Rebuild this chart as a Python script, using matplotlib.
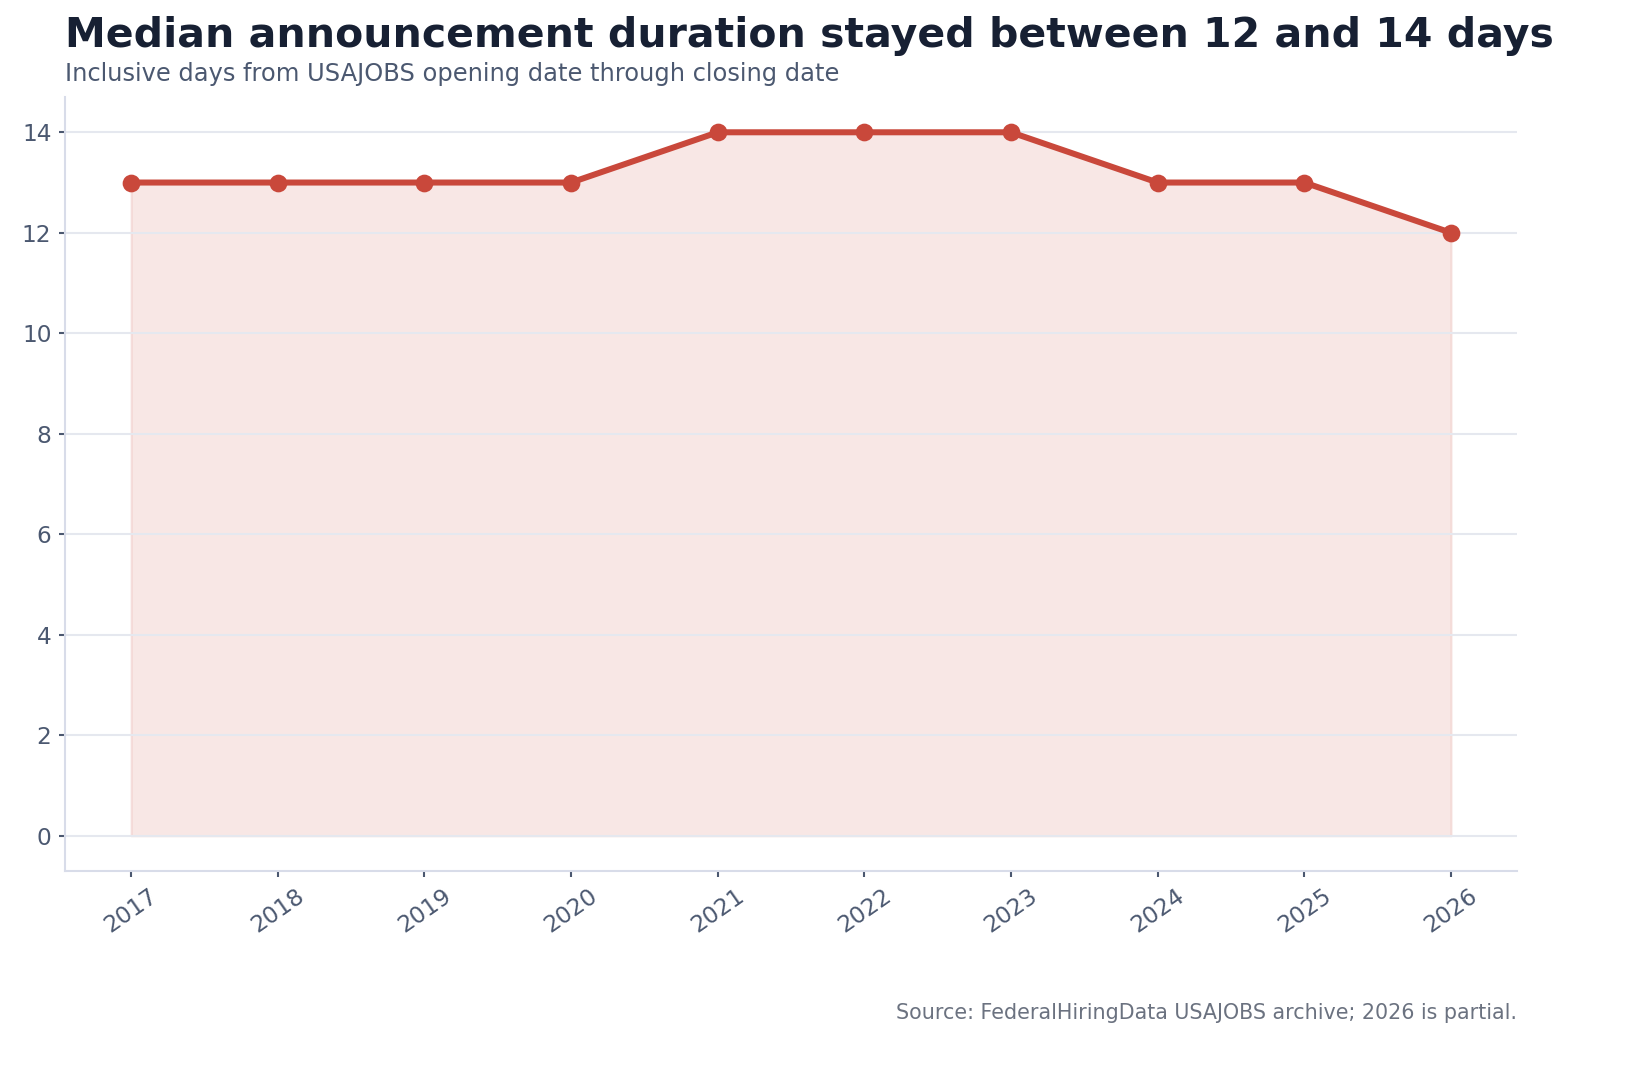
import matplotlib
matplotlib.use("Agg")
import matplotlib.pyplot as plt

years = [2017, 2018, 2019, 2020, 2021, 2022, 2023, 2024, 2025, 2026]
median_days = [13, 13, 13, 13, 14, 14, 14, 13, 13, 12]

line_color = "#c9483b"
title_color = "#172033"
muted = "#4b5870"

fig = plt.figure(figsize=(1627 / 150, 1079 / 150), dpi=150)
ax = fig.add_axes([0.04, 0.1928, 0.8924, 0.7172])

# grid sits above the shaded area, line on top of both
ax.fill_between(years, median_days, 0, color=line_color, alpha=0.13, zorder=0.2)
ax.plot(years, median_days, color=line_color, linewidth=2.9, marker="o",
        markersize=7.5, zorder=3)

ax.set_xticks(years)
ax.set_xticklabels([str(y) for y in years], rotation=35)
ax.set_yticks(range(0, 15, 2))
ax.set_axisbelow(True)
ax.grid(axis="y", color="#e5e8ef", linewidth=1.0)

for side in ["top", "right"]:
    ax.spines[side].set_visible(False)
for side in ["left", "bottom"]:
    ax.spines[side].set_color("#d8dce9")
    ax.spines[side].set_linewidth(1.0)

ax.tick_params(axis="both", colors=muted, labelsize=11.2, length=3, width=1.0)

fig.text(0.04, 0.967, "Median announcement duration stayed between 12 and 14 days",
         fontsize=19.7, fontweight="bold", color=title_color, va="center", ha="left")
fig.text(0.04, 0.931, "Inclusive days from USAJOBS opening date through closing date",
         fontsize=11.6, color=muted, va="center", ha="left")
fig.text(0.9324, 0.061, "Source: FederalHiringData USAJOBS archive; 2026 is partial.",
         fontsize=9.9, color="#6b7280", va="center", ha="right")

fig.savefig("out.png", dpi=150)
